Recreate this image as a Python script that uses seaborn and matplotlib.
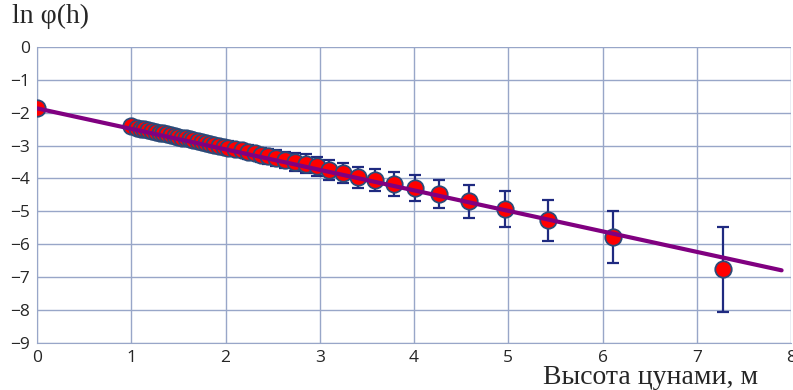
import matplotlib
matplotlib.use("Agg")
import matplotlib.pyplot as plt
import pandas as pd
import seaborn as sns

# Точки: высота цунами (м) и ln φ(h)
h = [0.00, 1.00, 1.06, 1.10, 1.14, 1.18, 1.22, 1.26, 1.30, 1.34, 1.38, 1.42, 1.46,
     1.50, 1.54, 1.58, 1.62, 1.66, 1.71, 1.75, 1.79, 1.84, 1.88, 1.93, 1.98,
     2.03, 2.10, 2.17, 2.24, 2.31, 2.38, 2.45, 2.54, 2.63, 2.74, 2.85, 2.97,
     3.10, 3.25, 3.41, 3.59, 3.79, 4.01, 4.27, 4.58, 4.96, 5.42, 6.11, 7.28]
ln_phi = [-1.87, -2.42, -2.46, -2.49, -2.51, -2.54, -2.56, -2.58, -2.61, -2.63, -2.66,
          -2.68, -2.71, -2.73, -2.76, -2.78, -2.81, -2.83, -2.87, -2.89, -2.92,
          -2.95, -2.97, -3.00, -3.03, -3.06, -3.11, -3.15, -3.20, -3.24, -3.28,
          -3.33, -3.38, -3.44, -3.50, -3.55, -3.63, -3.75, -3.84, -3.96, -4.05,
          -4.17, -4.29, -4.48, -4.69, -4.93, -5.27, -5.78, -6.76]
err = [0.00, 0.10, 0.10, 0.11, 0.11, 0.12, 0.12, 0.12, 0.13, 0.13, 0.13, 0.14, 0.14,
       0.14, 0.15, 0.15, 0.15, 0.16, 0.16, 0.16, 0.17, 0.17, 0.17, 0.18, 0.18,
       0.19, 0.19, 0.20, 0.21, 0.21, 0.22, 0.23, 0.24, 0.25, 0.26, 0.28, 0.29,
       0.30, 0.31, 0.32, 0.34, 0.36, 0.40, 0.43, 0.50, 0.54, 0.63, 0.80, 1.29]

# Линейная аппроксимация
fit_a = -1.87
fit_b = -0.623
fit_x = [0.0, 7.9]

x_ticks = list(range(0, 9))
y_ticks = list(range(-9, 1))

df = pd.DataFrame({"h": h, "ln_phi": ln_phi, "err": err})
fit = pd.DataFrame({"h": fit_x})
fit["ln_phi"] = fit_a + fit_b * fit["h"]

sns.set_style("white")
fig = plt.figure(figsize=(7.93, 3.90), dpi=100)
ax = fig.add_axes([0.0467, 0.1205, 0.9508, 0.7595])

grid_col = "#98a6c8"
ax.errorbar(df["h"], df["ln_phi"], yerr=df["err"], fmt="none",
            ecolor="#1f2a80", elinewidth=1.6, capsize=4.5, capthick=1.6, zorder=2)
sns.scatterplot(data=df, x="h", y="ln_phi", ax=ax, s=140, color="#ff0000",
                edgecolor="#2c4a78", linewidth=1.3, zorder=3)
sns.lineplot(data=fit, x="h", y="ln_phi", ax=ax, color="#800080", linewidth=3.0, zorder=4)

ax.set_xlim(0, 8)
ax.set_ylim(-9, 0)
ax.set_xticks(x_ticks)
ax.set_yticks(y_ticks)
ax.grid(True, color=grid_col, linewidth=1.0)
ax.set_axisbelow(True)
for s in ax.spines.values():
    s.set_visible(False)
ax.spines["left"].set_visible(True)
ax.spines["left"].set_color(grid_col)
ax.spines["bottom"].set_visible(True)
ax.spines["bottom"].set_color(grid_col)
ax.tick_params(axis="both", length=0, labelsize=12.5, pad=5)
for lab in ax.get_xticklabels() + ax.get_yticklabels():
    lab.set_fontfamily("Open Sans")
ax.set_xlabel("")
ax.set_ylabel("")

fig.text(0.015, 0.99, "ln φ(h)", fontfamily="Liberation Serif", fontsize=20, va="top", ha="left")
fig.text(0.82, 0.0, "Высота цунами, м", fontfamily="Liberation Serif", fontsize=20,
         va="bottom", ha="center")

fig.savefig("out.png", dpi=100)
